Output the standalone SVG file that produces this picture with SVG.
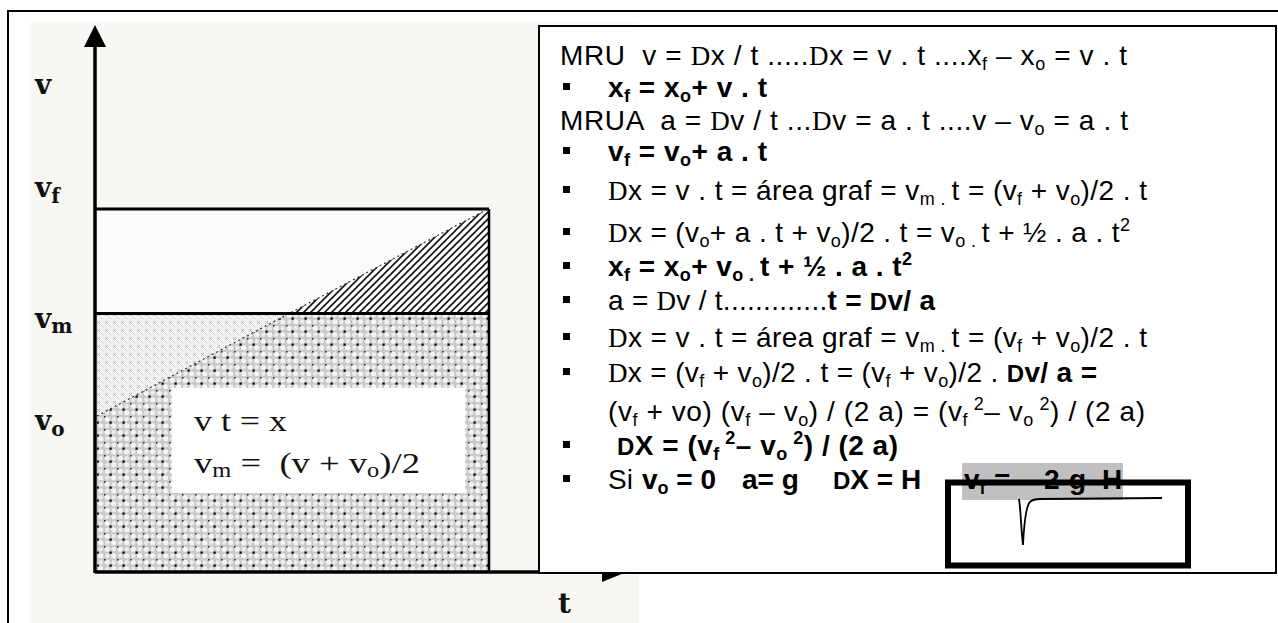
<svg xmlns="http://www.w3.org/2000/svg" width="1278" height="623" viewBox="0 0 1278 623">
<style>
.t{font-family:"Liberation Sans",Arial,sans-serif;font-size:28px;fill:#000;white-space:pre}
.b{font-weight:bold}
.s{font-size:18px}
.d{font-family:"Liberation Serif","Times New Roman",serif;font-size:27px;font-weight:normal}
.db{font-family:"Liberation Sans",Arial,sans-serif;font-size:24px;font-weight:bold}
.lab{font-family:"DejaVu Serif","Liberation Serif",serif;font-weight:bold;font-size:28px;fill:#111}
.inner{font-family:"Liberation Serif","Times New Roman",serif;font-size:30px;fill:#111;white-space:pre}
.ln{stroke:#000;fill:none}
.bul{fill:#000}
</style>
<defs>
<pattern id="xp" width="8" height="8" patternUnits="userSpaceOnUse">
<rect width="8" height="8" fill="#f2f2f2"/>
<path d="M1,1 L4,4 M4,1 L1,4" stroke="#b5b5b5" stroke-width="1"/>
<path d="M5,5 L7,7" stroke="#cccccc" stroke-width="1"/>
</pattern>
<pattern id="dots" width="13" height="13" patternUnits="userSpaceOnUse">
<rect width="13" height="13" fill="#c9c9c9"/>
<circle cx="3.25" cy="3.25" r="2.6" fill="#f4f4f4"/>
<circle cx="9.75" cy="9.75" r="2.6" fill="#f4f4f4"/>
<circle cx="9.75" cy="3.25" r="2.2" fill="#ececec"/>
<circle cx="3.25" cy="9.75" r="2.2" fill="#ececec"/>
<rect x="5.5" y="5.5" width="2.2" height="2.2" fill="#000"/>
<rect x="0" y="0" width="1.5" height="1.5" fill="#222"/>
</pattern>
<pattern id="hatch" width="7" height="7" patternUnits="userSpaceOnUse">
<rect width="7" height="7" fill="#fff"/>
<path d="M-1,8 L8,-1 M-1,1 L1,-1 M6,8 L8,6" stroke="#111" stroke-width="1.6"/>
</pattern>
</defs>

<g id="frame">
<path d="M8,640 V11 H1290" class="ln" stroke-width="2"/>
</g>

<g id="graph">
<rect x="30" y="22" width="609" height="601" fill="#f8f7f3"/>
<rect x="97" y="209" width="391" height="104" fill="#fbfbf9"/>
<polygon points="97,315 290,315 97,416" fill="url(#xp)"/>
<polygon points="97,416 290,313 488,313 488,572 97,572" fill="url(#dots)"/>
<polygon points="290,313 488,209 488,313" fill="url(#hatch)"/>
<path d="M97,416 L290,313 L488,209" stroke="#333" stroke-width="1.2" stroke-dasharray="2,3" fill="none"/>
<rect x="172" y="388" width="293" height="105" fill="#fff"/>
<path d="M95,45 V573" class="ln" stroke-width="3.5"/>
<polygon points="95,25 84,47 106,47" fill="#000"/>
<path d="M95,209 H489" class="ln" stroke-width="3"/>
<path d="M95,313.5 H489" class="ln" stroke-width="3"/>
<path d="M489,209 V573" class="ln" stroke-width="2.5"/>
<path d="M95,572 H610" class="ln" stroke-width="3.5"/>
<polygon points="602,564 624,573 602,582" fill="#000"/>
<text class="lab" x="35" y="94">v</text>
<text class="lab" x="35" y="197">v<tspan font-size="20" dy="6">f</tspan></text>
<text class="lab" x="35" y="328">v<tspan font-size="20" dy="5">m</tspan></text>
<text class="lab" x="35" y="430">v<tspan font-size="20" dy="6">o</tspan></text>
<text class="lab" x="558" y="613" font-weight="normal">t</text>
<text class="inner" x="194" y="431" textLength="93" lengthAdjust="spacingAndGlyphs">v t = x</text>
<text class="inner" x="194" y="473" textLength="226" lengthAdjust="spacingAndGlyphs">v<tspan font-size="20" dy="4">m</tspan><tspan dy="-4"> =  (v + v</tspan><tspan font-size="20" dy="4">o</tspan><tspan dy="-4">)/2</tspan></text>
</g>

<g id="formulas">
<rect x="539" y="26" width="737" height="547" fill="#fff" stroke="#000" stroke-width="2"/>
<rect class="bul" x="563" y="83" width="7" height="7"/>
<rect class="bul" x="563" y="147" width="7" height="7"/>
<rect class="bul" x="563" y="186" width="7" height="7"/>
<rect class="bul" x="563" y="228" width="7" height="7"/>
<rect class="bul" x="563" y="262" width="7" height="7"/>
<rect class="bul" x="563" y="296" width="7" height="7"/>
<rect class="bul" x="563" y="333" width="7" height="7"/>
<rect class="bul" x="563" y="368" width="7" height="7"/>
<rect class="bul" x="563" y="441" width="7" height="7"/>
<rect class="bul" x="563" y="475" width="7" height="7"/>

<text class="t" x="560" y="65" textLength="567" lengthAdjust="spacing">MRU  v = <tspan class="d">D</tspan>x / t .....<tspan class="d">D</tspan>x = v . t ....x<tspan class="s" dy="5">f</tspan><tspan dy="-5"> – x</tspan><tspan class="s" dy="5">o</tspan><tspan dy="-5"> = v . t</tspan></text>

<text class="t b" x="608" y="97" textLength="159" lengthAdjust="spacing">x<tspan class="s" dy="5">f</tspan><tspan dy="-5"> = x</tspan><tspan class="s" dy="5">o</tspan><tspan dy="-5">+ v . t</tspan></text>

<text class="t" x="560" y="130" textLength="568" lengthAdjust="spacing">MRUA  a = <tspan class="d">D</tspan>v / t ...<tspan class="d">D</tspan>v = a . t ....v – v<tspan class="s" dy="5">o</tspan><tspan dy="-5"> = a . t</tspan></text>

<text class="t b" x="608" y="161" textLength="159" lengthAdjust="spacing">v<tspan class="s" dy="5">f</tspan><tspan dy="-5"> = v</tspan><tspan class="s" dy="5">o</tspan><tspan dy="-5">+ a . t</tspan></text>

<text class="t" x="608" y="200" textLength="539" lengthAdjust="spacing"><tspan class="d">D</tspan>x = v . t = área graf = v<tspan class="s" dy="5">m . </tspan><tspan dy="-5">t = (v</tspan><tspan class="s" dy="5">f</tspan><tspan dy="-5"> + v</tspan><tspan class="s" dy="5">o</tspan><tspan dy="-5">)/2 . t</tspan></text>

<text class="t" x="608" y="242" textLength="522" lengthAdjust="spacing"><tspan class="d">D</tspan>x = (v<tspan class="s" dy="5">o</tspan><tspan dy="-5">+ a . t + v</tspan><tspan class="s" dy="5">o</tspan><tspan dy="-5">)/2 . t = v</tspan><tspan class="s" dy="5">o . </tspan><tspan dy="-5">t + ½ . a . t</tspan><tspan class="s" dy="-11">2</tspan></text>

<text class="t b" x="608" y="276" textLength="304" lengthAdjust="spacing">x<tspan class="s" dy="5">f</tspan><tspan dy="-5"> = x</tspan><tspan class="s" dy="5">o</tspan><tspan dy="-5">+ v</tspan><tspan class="s" dy="5">o . </tspan><tspan dy="-5">t + ½ . a . t</tspan><tspan class="s" dy="-11">2</tspan></text>

<text class="t" x="608" y="310" textLength="327" lengthAdjust="spacing">a = <tspan class="d">D</tspan>v / t.............<tspan class="b">t = </tspan><tspan class="db">D</tspan><tspan class="b">v/ a</tspan></text>

<text class="t" x="608" y="347" textLength="539" lengthAdjust="spacing"><tspan class="d">D</tspan>x = v . t = área graf = v<tspan class="s" dy="5">m . </tspan><tspan dy="-5">t = (v</tspan><tspan class="s" dy="5">f</tspan><tspan dy="-5"> + v</tspan><tspan class="s" dy="5">o</tspan><tspan dy="-5">)/2 . t</tspan></text>

<text class="t" x="608" y="382" textLength="489" lengthAdjust="spacing"><tspan class="d">D</tspan>x = (v<tspan class="s" dy="5">f</tspan><tspan dy="-5"> + v</tspan><tspan class="s" dy="5">o</tspan><tspan dy="-5">)/2 . t = (v</tspan><tspan class="s" dy="5">f</tspan><tspan dy="-5"> + v</tspan><tspan class="s" dy="5">o</tspan><tspan dy="-5">)/2 . </tspan><tspan class="db">D</tspan><tspan class="b">v/ a =</tspan></text>

<text class="t" x="608" y="421" textLength="537" lengthAdjust="spacing">(v<tspan class="s" dy="5">f</tspan><tspan dy="-5"> + vo) (v</tspan><tspan class="s" dy="5">f</tspan><tspan dy="-5"> – v</tspan><tspan class="s" dy="5">o</tspan><tspan dy="-5">) / (2 a) = (v</tspan><tspan class="s" dy="5">f</tspan><tspan class="s" dy="-16"> 2</tspan><tspan dy="11">– v</tspan><tspan class="s" dy="5">o</tspan><tspan class="s" dy="-16"> 2</tspan><tspan dy="11">) / (2 a)</tspan></text>

<text class="t b" x="617" y="455" textLength="281" lengthAdjust="spacing"><tspan class="db">D</tspan>X = (v<tspan class="s" dy="5">f</tspan><tspan class="s" dy="-16"> 2</tspan><tspan dy="11">– v</tspan><tspan class="s" dy="5">o</tspan><tspan class="s" dy="-16"> 2</tspan><tspan dy="11">) / (2 a)</tspan></text>

<text class="t" x="608" y="489">Si</text>
<text class="t b" x="642" y="489">v<tspan class="s" dy="5">o</tspan><tspan dy="-5"> = 0</tspan></text>
<text class="t b" x="742" y="489">a= g</text>
<text class="t b" x="833" y="489"><tspan class="db">D</tspan>X = H</text>
</g>

<g id="root-box">
<rect x="962" y="463" width="161" height="37" fill="#c0c0c0"/>
<text class="t b" x="964" y="489">v<tspan class="s" dy="5">f</tspan><tspan dy="-5" x="994">=</tspan><tspan x="1044">2</tspan><tspan x="1069">g</tspan><tspan x="1102">H</tspan></text>
<path d="M1019,499 C1021,512 1021,530 1023,545 C1024,525 1026,506 1030,502 C1032,500 1035,499 1040,499 L1162,498" fill="none" stroke="#000" stroke-width="1.8"/>
<rect x="948" y="482.5" width="240" height="83" fill="none" stroke="#000" stroke-width="6"/>
</g>
</svg>
